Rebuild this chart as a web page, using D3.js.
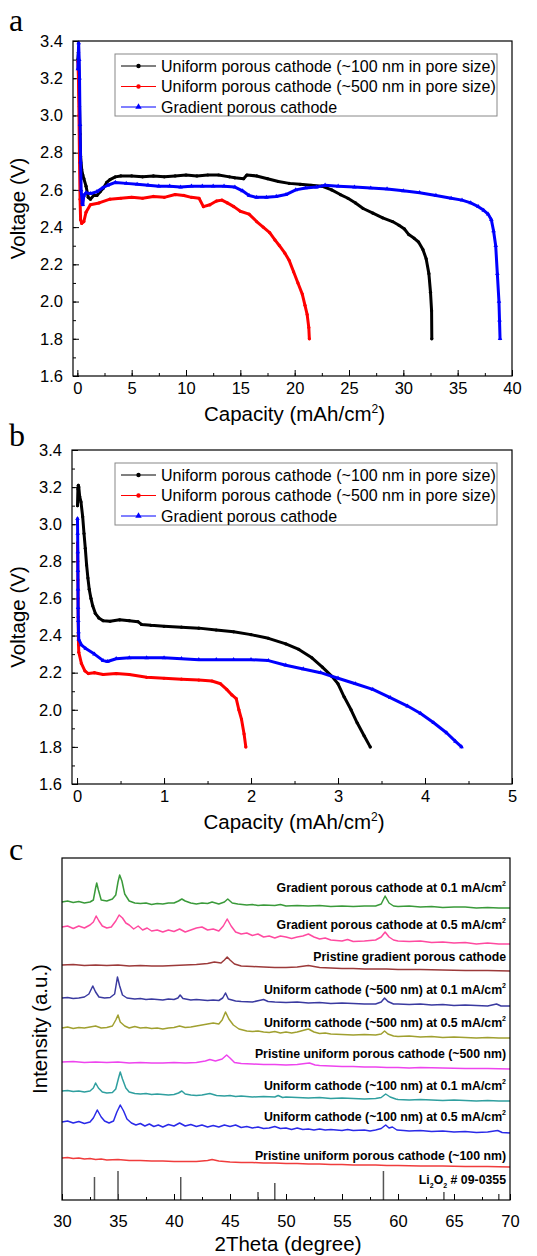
<!DOCTYPE html>
<html>
<head>
<meta charset="utf-8">
<script src="https://cdn.jsdelivr.net/npm/d3@7"></script>
<style>
body { margin: 0; background: #fff; }
text { font-family: "Liberation Sans", Arial, sans-serif; fill: #000; }
.letter { font-family: "Liberation Serif", "Times New Roman", serif; }
</style>
</head>
<body>
<div id="chart"></div>
<script>
// ---- data: discharge curves, (capacity mAh/cm2, voltage V) ----
var seriesNames = [
    "Uniform porous cathode (~100 nm in pore size)",
    "Uniform porous cathode (~500 nm in pore size)",
    "Gradient porous cathode"
];

// panel a
var a100 = [[0.05,3.30],[0.1,3.34],[0.15,3.20],[0.2,3.05],[0.25,2.90],[0.3,2.78],[0.4,2.71],[0.5,2.68],[0.6,2.66],[0.8,2.62],[1.0,2.56],[1.2,2.55],[1.5,2.57],[1.8,2.57],[2.1,2.59],[2.4,2.61],[2.7,2.64],[3.0,2.655],[3.5,2.67],[4,2.675],[5,2.675],[6,2.67],[7,2.675],[8,2.67],[9,2.675],[10,2.68],[11,2.675],[12,2.68],[13,2.68],[14,2.67],[14.5,2.665],[15.3,2.66],[15.6,2.68],[16.5,2.675],[17.5,2.66],[18.5,2.645],[19.5,2.635],[20.5,2.63],[21.5,2.625],[22.5,2.62],[23.4,2.60],[24.2,2.575],[24.9,2.555],[25.6,2.53],[26.3,2.50],[27.2,2.475],[28.1,2.45],[29,2.43],[29.6,2.41],[30.1,2.39],[30.5,2.36],[31,2.34],[31.4,2.32],[31.8,2.28],[32.1,2.23],[32.35,2.15],[32.5,2.05],[32.6,1.95],[32.62,1.80]];
var a500 = [[0.05,3.29],[0.1,3.20],[0.15,3.0],[0.2,2.75],[0.25,2.55],[0.3,2.44],[0.4,2.42],[0.6,2.43],[0.8,2.48],[1.2,2.52],[2,2.53],[3,2.55],[4,2.555],[5,2.56],[6,2.555],[7,2.565],[8,2.56],[9,2.575],[9.8,2.57],[10.5,2.56],[11.2,2.555],[11.6,2.51],[12.2,2.52],[12.8,2.54],[13.3,2.545],[13.8,2.53],[14.4,2.51],[15,2.485],[15.8,2.47],[16.5,2.43],[17.1,2.40],[17.7,2.37],[18.2,2.33],[18.6,2.30],[19.1,2.26],[19.5,2.22],[19.9,2.16],[20.3,2.10],[20.7,2.04],[20.95,1.98],[21.15,1.93],[21.3,1.86],[21.35,1.80]];
var aGrad = [[0.05,3.25],[0.12,3.39],[0.17,3.30],[0.2,3.20],[0.25,2.95],[0.3,2.75],[0.35,2.60],[0.45,2.53],[0.5,2.52],[0.6,2.57],[0.8,2.585],[1.2,2.58],[1.8,2.59],[2.3,2.61],[2.8,2.625],[3.5,2.64],[4.5,2.635],[5.5,2.63],[6.5,2.625],[7.5,2.62],[8.5,2.62],[9.5,2.615],[10.5,2.62],[11.5,2.62],[12.5,2.62],[13.5,2.62],[14.5,2.615],[15.2,2.595],[15.8,2.57],[16.5,2.56],[17.4,2.56],[18.3,2.565],[19.2,2.575],[20.1,2.60],[21,2.61],[22,2.615],[22.8,2.625],[24,2.62],[25.5,2.615],[27,2.61],[28.5,2.605],[30,2.595],[31.5,2.585],[33,2.57],[34.4,2.555],[35.4,2.545],[36.2,2.53],[36.9,2.51],[37.4,2.49],[37.8,2.47],[38.1,2.44],[38.3,2.38],[38.5,2.30],[38.65,2.15],[38.8,2.0],[38.85,1.90],[38.9,1.80]];

// panel b
var b100 = [[0.005,3.10],[0.01,3.19],[0.015,3.21],[0.02,3.20],[0.03,3.15],[0.045,3.12],[0.065,3.04],[0.08,2.95],[0.095,2.87],[0.11,2.78],[0.125,2.71],[0.14,2.65],[0.16,2.60],[0.18,2.56],[0.21,2.52],[0.25,2.495],[0.3,2.48],[0.38,2.477],[0.49,2.485],[0.6,2.48],[0.7,2.475],[0.74,2.46],[0.85,2.455],[1.0,2.45],[1.2,2.445],[1.4,2.44],[1.6,2.43],[1.8,2.42],[2.0,2.405],[2.2,2.385],[2.4,2.355],[2.55,2.325],[2.7,2.28],[2.82,2.23],[2.93,2.18],[3.0,2.14],[3.07,2.07],[3.15,2.0],[3.22,1.93],[3.3,1.86],[3.37,1.80]];
var b500 = [[0.005,2.90],[0.008,2.80],[0.01,2.70],[0.012,2.60],[0.013,2.50],[0.015,2.40],[0.017,2.35],[0.02,2.31],[0.05,2.25],[0.09,2.21],[0.13,2.195],[0.2,2.20],[0.3,2.19],[0.45,2.195],[0.6,2.19],[0.8,2.175],[1.0,2.17],[1.2,2.165],[1.4,2.16],[1.55,2.155],[1.65,2.14],[1.72,2.11],[1.78,2.08],[1.83,2.06],[1.86,2.0],[1.89,1.95],[1.92,1.87],[1.94,1.80]];
var bGrad = [[0.005,3.03],[0.007,2.95],[0.009,2.85],[0.01,2.75],[0.011,2.65],[0.012,2.55],[0.014,2.48],[0.017,2.42],[0.02,2.38],[0.05,2.35],[0.1,2.33],[0.2,2.30],[0.3,2.265],[0.35,2.26],[0.45,2.275],[0.6,2.28],[0.8,2.28],[1.0,2.28],[1.2,2.275],[1.4,2.27],[1.6,2.27],[1.8,2.27],[2.0,2.27],[2.2,2.265],[2.4,2.24],[2.6,2.22],[2.8,2.20],[3.0,2.17],[3.2,2.14],[3.4,2.11],[3.6,2.065],[3.8,2.02],[3.95,1.98],[4.1,1.93],[4.25,1.875],[4.35,1.83],[4.42,1.80]];

var voltTicks = [1.6, 1.8, 2.0, 2.2, 2.4, 2.6, 2.8, 3.0, 3.2, 3.4];
var capTicksA = [0, 5, 10, 15, 20, 25, 30, 35, 40];
var capTicksB = [0, 1, 2, 3, 4, 5];

// ---- data: XRD patterns, (2theta deg, stacked intensity a.u.) ----
var xrdNames = [
    ["Gradient porous cathode at 0.1 mA/cm", "2"],
    ["Gradient porous cathode at 0.5 mA/cm", "2"],
    ["Pristine gradient porous cathode", ""],
    ["Uniform cathode (~500 nm) at 0.1 mA/cm", "2"],
    ["Uniform cathode (~500 nm) at 0.5 mA/cm", "2"],
    ["Pristine uniform porous cathode (~500 nm)", ""],
    ["Uniform cathode (~100 nm) at 0.1 mA/cm", "2"],
    ["Uniform cathode (~100 nm) at 0.5 mA/cm", "2"],
    ["Pristine uniform porous cathode (~100 nm)", ""]
];
var xrdGrad01 = [[30,298],[30.5,299],[31,297.5],[31.5,298.5],[32,297],[32.5,298],[32.8,300],[33.0,312],[33.1,317],[33.25,310],[33.5,300],[34,299],[34.5,301],[34.8,305],[35.0,318],[35.15,325],[35.35,319],[35.6,306],[36,299],[36.5,297],[37,296.5],[37.5,297],[38,295.5],[38.5,296.5],[39,296],[39.5,297],[40,297],[40.4,299],[40.7,301],[41,299],[41.5,297],[42,296],[42.5,297],[43,296.5],[43.4,298],[44,296],[44.5,298],[44.8,301],[45.2,297],[45.7,296],[46.5,295],[47,295.5],[47.5,294.5],[48,295],[49,294.5],[49.5,295.5],[50,294],[51,294.5],[52,294],[53,294.5],[54,293.5],[55,294],[56,293.5],[57,294],[58,294],[58.5,296],[58.85,304],[59.2,297],[59.6,294],[60,293.5],[61,294],[62,293],[63,293.5],[64,292.5],[65,293],[66,293],[67,292],[68,292.5],[69,292],[70,292]];
var xrdGrad05 = [[30,273],[30.5,274],[31,271.5],[31.5,274],[32,272],[32.5,275],[32.8,278],[33.05,284],[33.3,279],[33.6,274],[34,272],[34.4,273],[34.8,279],[35.1,285],[35.4,282],[35.7,277],[36,275],[36.4,271],[36.8,274],[37.2,270],[37.6,272],[38,269],[38.5,270],[39,268],[39.5,270],[40,268.5],[40.5,271],[41,268],[41.5,270],[42,272],[42.5,273],[43,270],[43.5,271],[44,269],[44.4,274],[44.75,281],[45.1,274],[45.5,268],[46,266],[46.5,267],[47,264.5],[47.5,266],[48,263],[48.5,264],[49,262],[49.5,264],[50,263],[50.5,261.5],[51,263],[51.5,264],[52,266],[52.5,263],[53,261],[53.5,262],[54,260],[55,259],[55.5,260.5],[56,258.5],[57,259],[57.5,259.5],[58,260],[58.5,263],[58.85,268],[59.2,263],[59.6,260],[60,259],[61,258.5],[62,259],[63,257.5],[64,258],[65,257],[66,257.5],[67,256],[68,257],[69,256],[70,256]];
var xrdGradPristine = [[30,235],[31,235.5],[32,234.5],[33,235],[34,234.5],[35,235],[36,234],[37,234.5],[38,234],[39,234],[40,234.5],[41,235],[42,235.5],[43,236.5],[43.6,238],[44.2,237],[44.5,240],[44.75,243],[45.0,240],[45.4,236],[46,234],[47,233.5],[48,233],[49,232.5],[50,232.5],[51,233],[52,234.5],[53,232.5],[54,232],[55,231.5],[56,231.5],[57,231],[58,231],[59,231],[60,230.5],[62,230.5],[64,230],[66,229.5],[68,229.5],[70,229]];
var xrdU500at01 = [[30,202],[30.5,202.5],[31,201.5],[31.5,202],[32,203],[32.4,206],[32.75,214],[33.0,208],[33.3,203],[33.8,202],[34.3,202.5],[34.7,206],[34.95,223],[35.15,214],[35.4,205],[35.8,202],[36.5,201],[37,201.5],[37.5,200.5],[38,201],[39,200],[39.5,201],[40,200.5],[40.35,202],[40.55,205],[40.8,201.5],[41.5,200],[42,200.5],[43,199.5],[43.5,200],[44,199.5],[44.35,202],[44.6,207],[44.85,201],[45.5,199],[46,198.5],[47,198],[47.6,199.5],[48,200.5],[48.4,198.5],[49,198],[50,197.5],[51,198],[52,197],[53,197.5],[54,196.5],[55,197],[56,196.5],[57,196],[58,196],[58.5,198],[58.8,202],[59.1,198.5],[59.6,196],[60,196],[61,195.5],[62,196],[63,195],[64,195.5],[65,194.5],[66,195],[67,194.5],[68,194],[68.8,196],[69.2,194],[70,194]];
var xrdU500at05 = [[30,172],[30.5,173],[31,171.5],[31.5,172.5],[32,172],[32.5,173],[33,174],[33.5,172],[34,172.5],[34.5,174],[34.8,180],[35.0,185],[35.2,178],[35.6,174],[36,172],[36.5,173.5],[37,172],[37.5,172.5],[38,171.5],[38.5,172],[39,171],[39.5,172],[40,172.5],[40.5,174],[41,172.5],[41.5,173],[42,174],[42.5,175],[43,176],[43.5,177],[44,176],[44.3,180],[44.6,188],[44.9,181],[45.3,175],[45.8,171],[46.5,169],[47,168.5],[47.5,169],[48,168],[48.5,167.5],[49,168.5],[49.5,167],[50,168],[50.5,167],[51,168],[51.5,169.5],[52,171],[52.5,168],[53,166.5],[53.5,167],[54,166],[55,165.5],[56,165],[57,165.5],[58,165],[58.5,166],[58.8,169],[59.1,166],[59.6,164],[60,163.5],[61,164],[62,163],[63,163.5],[64,162.5],[65,163],[66,162.5],[67,162],[68,162.5],[69,162],[70,162]];
var xrdU500Pristine = [[30,138],[31,138.5],[32,137.5],[33,138],[34,137.5],[35,138],[36,137],[37,137.5],[38,137],[39,137],[40,137.5],[41,137],[42,137.5],[42.8,139],[43.2,140.5],[43.7,139],[44.3,141],[44.7,145],[45.0,142],[45.4,137.5],[46,136.5],[47,136],[48,135.5],[49,135.5],[50,135],[51,135.5],[51.7,136.5],[52.1,137],[52.6,135],[53,134.5],[54,134],[55,133.5],[56,133.5],[57,133],[58,133],[59,132.5],[60,132.5],[61,132],[62,132.5],[64,132],[66,131.5],[68,131.5],[70,131]];
var xrdU100at01 = [[30,109],[30.5,109.5],[31,108.5],[31.5,109],[32,108],[32.5,109],[32.8,112],[33.0,117],[33.25,112],[33.6,108],[34,107],[34.5,107.5],[34.8,111],[35.05,122],[35.2,128],[35.4,121],[35.7,112],[36,108],[36.5,106.5],[37,106],[37.5,106.5],[38,105.5],[38.5,106],[39,105.5],[39.5,105],[40,105.5],[40.4,107],[40.7,109],[41,106],[41.5,105],[42,104.5],[42.5,105],[43.2,106.5],[43.8,104.5],[44.5,104],[45,104.5],[45.5,103.5],[46,104],[47,103],[48,103.5],[49,103],[49.3,104.5],[49.7,102.5],[50,103],[51,102.5],[52,102],[53,102.5],[54,101.5],[55,102],[56,101.5],[57,101],[58,101.5],[58.5,102.5],[58.9,106],[59.3,103],[59.8,101],[60,100.5],[61,100],[62,100.5],[63,100],[64,99.5],[65,100],[66,99.5],[67,99],[68,99.5],[69,99],[70,99]];
var xrdU100at05 = [[30,78],[30.5,79],[31,77],[31.5,78.5],[32,76.5],[32.5,78],[32.8,82],[33.15,90],[33.5,83],[33.8,79],[34.2,77],[34.6,79],[34.9,88],[35.2,95],[35.5,89],[35.8,81],[36.2,77],[36.6,75],[37,76.5],[37.4,74],[37.8,76],[38.2,73.5],[38.6,75],[39,73],[39.5,75.5],[40,74],[40.5,77],[41,74],[41.5,75.5],[42,73.5],[42.5,75],[43,73],[43.5,74.5],[44,73],[44.5,75],[45,73.5],[45.5,75],[46,72.5],[46.5,73.5],[47,72],[47.5,73],[48,71.5],[48.5,72],[49,73.5],[49.5,71.5],[50,72],[50.5,70.5],[51,72],[51.5,70.5],[52,71],[52.5,70],[53,71],[53.5,70],[54,70.5],[55,69.5],[55.5,70.5],[56,69.5],[57,70],[57.5,69],[58,70],[58.5,71.5],[58.9,75],[59.2,72],[59.5,73],[59.9,70],[60.5,69.5],[61,69],[62,69.5],[63,68.5],[64,69],[65,68],[66,68.5],[67,67.5],[68,68],[68.9,69.5],[69.3,67.5],[70,67]];
var xrdU100Pristine = [[30,42],[30.5,42.5],[31,41.5],[31.5,42],[32,41],[32.5,41.5],[33,40.5],[33.5,41],[34,40],[35,40.5],[36,39.5],[37,39.5],[38,39],[39,39],[40,38.5],[41,38.5],[42,38.5],[43,39.5],[43.4,40.5],[44,39],[45,38],[46,37.5],[47,37.5],[48,37],[49,37],[50,36.5],[51,36.5],[52,36],[53,36],[54,35.5],[55,35.5],[56,35],[57,35],[58,35],[59,34.5],[60,34.5],[62,34],[64,34],[66,33.5],[68,33.5],[70,33]];

// Li2O2 reference card 09-0355
var refTheta = [32.9, 35.0, 40.6, 47.5, 49.0, 58.7, 64.1, 69.0];
var refInt = [23, 29, 23, 8, 17, 29, 8, 6];

var thetaTicks = [30, 35, 40, 45, 50, 55, 60, 65, 70];

// ---- styles / layout ----
var curveColors = ["#000000", "#ff0000", "#0000ff"];
var xrdColors = ["#3a9a3a", "#ff4aa0", "#9c3a3a", "#3a3aa0", "#a0a030", "#ee44ee", "#2f9f9f", "#2a2ae8", "#f03c3c"];
var xrdLabelLevel = [308, 271, 239, 206, 173, 142, 110, 79, 40];

var svg = d3.select("#chart").append("svg")
    .attr("width", 537)
    .attr("height", 1256);

function styleAxis(sel, fs) {
    sel.select(".domain").remove();
    sel.selectAll("line").attr("stroke", "#000").attr("stroke-width", 1);
    sel.selectAll("text").style("font-size", fs + "px").attr("fill", "#000");
}

function marker(g, kind, color, cx, cy, big) {
    if (kind === "tri") {
        g.append("path")
            .attr("d", d3.symbol().type(d3.symbolTriangle).size(big ? 18 : 9)())
            .attr("transform", "translate(" + cx + "," + cy + ")")
            .attr("fill", color);
    } else {
        g.append("circle").attr("cx", cx).attr("cy", cy).attr("r", big ? 2.2 : 1.6).attr("fill", color);
    }
}

function voltagePanel(p) {
    var x = d3.scaleLinear().domain(p.xDomain).range([p.left, p.right]),
        y = d3.scaleLinear().domain([1.6, 3.4]).range([p.bottom, p.top]);
    var g = svg.append("g");

    var xMinor = d3.range(p.xTicks[0], p.xTicks[p.xTicks.length - 1] + 1e-9, p.xStep / 2);
    var yMinor = d3.range(1.6, 3.4001, 0.1);

    g.append("g").attr("transform", "translate(0," + p.bottom + ")")
        .call(d3.axisBottom(x).tickValues(xMinor).tickSizeInner(-3).tickSizeOuter(0).tickFormat(""))
        .call(styleAxis, 16);
    g.append("g").attr("transform", "translate(0," + p.bottom + ")")
        .call(d3.axisBottom(x).tickValues(p.xTicks).tickSizeInner(-6).tickSizeOuter(0).tickPadding(6).tickFormat(d3.format("d")))
        .call(styleAxis, 16.5);
    g.append("g").attr("transform", "translate(" + p.left + ",0)")
        .call(d3.axisLeft(y).tickValues(yMinor).tickSizeInner(-3).tickSizeOuter(0).tickFormat(""))
        .call(styleAxis, 16);
    g.append("g").attr("transform", "translate(" + p.left + ",0)")
        .call(d3.axisLeft(y).tickValues(voltTicks).tickSizeInner(-6).tickSizeOuter(0).tickPadding(10).tickFormat(d3.format(".1f")))
        .call(styleAxis, 16.5);

    var line = d3.line()
        .x(function(d) { return x(d[0]); })
        .y(function(d) { return y(d[1]); });

    p.series.forEach(function(s, i) {
        g.append("path")
            .datum(s)
            .attr("fill", "none")
            .attr("stroke", curveColors[i])
            .attr("stroke-width", 3)
            .attr("stroke-linejoin", "round")
            .attr("stroke-linecap", "round")
            .attr("d", line);
        var mg = g.append("g");
        s.forEach(function(d) {
            marker(mg, i === 2 ? "tri" : "dot", curveColors[i], x(d[0]), y(d[1]), false);
        });
    });

    g.append("rect")
        .attr("x", p.left).attr("y", p.top)
        .attr("width", p.right - p.left).attr("height", p.bottom - p.top)
        .attr("fill", "none").attr("stroke", "#000").attr("stroke-width", 1.2);

    // legend
    var lg = g.append("g");
    lg.append("rect")
        .attr("x", 115).attr("y", p.legendTop)
        .attr("width", 382).attr("height", 62)
        .attr("fill", "#fff").attr("stroke", "#888").attr("stroke-width", 1);
    seriesNames.forEach(function(n, i) {
        var cy = p.legendTop + 12 + i * 20.5;
        lg.append("line").attr("x1", 121).attr("x2", 156).attr("y1", cy).attr("y2", cy)
            .attr("stroke", curveColors[i]).attr("stroke-width", 1);
        marker(lg, i === 2 ? "tri" : "dot", curveColors[i], 138.5, cy, true);
        lg.append("text").attr("x", 161).attr("y", cy + 5.5)
            .style("font-size", "16px").text(n);
    });

    // titles
    var t = g.append("text")
        .attr("x", (p.left + p.right) / 2 + 2).attr("y", p.bottom + 45)
        .attr("text-anchor", "middle").style("font-size", "20.5px");
    t.append("tspan").text("Capacity (mAh/cm");
    t.append("tspan").attr("dy", -8).style("font-size", "12px").text("2");
    t.append("tspan").attr("dy", 8).text(")");

    g.append("text")
        .attr("transform", "translate(25," + (p.top + p.bottom) / 2 + ") rotate(-90)")
        .attr("text-anchor", "middle").style("font-size", "20.5px")
        .text("Voltage (V)");

    g.append("text").attr("class", "letter")
        .attr("x", 9).attr("y", p.letterY)
        .style("font-size", "32px").text(p.letter);
}

voltagePanel({
    letter: "a", letterY: 31,
    left: 73, right: 512, top: 41, bottom: 376,
    xDomain: [-0.4, 40], xTicks: capTicksA, xStep: 5,
    series: [a100, a500, aGrad], legendTop: 54
});
voltagePanel({
    letter: "b", letterY: 446,
    left: 72, right: 512, top: 450, bottom: 784,
    xDomain: [-0.058, 5], xTicks: capTicksB, xStep: 1,
    series: [b100, b500, bGrad], legendTop: 463
});

// ---- panel c: XRD ----
(function() {
    var left = 62, right = 510, top = 858, bottom = 1200;
    var x = d3.scaleLinear().domain([30, 70]).range([left, right]),
        y = d3.scaleLinear().domain([0, 342]).range([bottom, top]);
    var g = svg.append("g");

    g.append("g").attr("transform", "translate(0," + bottom + ")")
        .call(d3.axisBottom(x).tickValues(d3.range(30, 70.01, 2.5)).tickSizeInner(-3).tickSizeOuter(0).tickFormat(""))
        .call(styleAxis, 16);
    g.append("g").attr("transform", "translate(0," + bottom + ")")
        .call(d3.axisBottom(x).tickValues(thetaTicks).tickSizeInner(-6).tickSizeOuter(0).tickPadding(15).tickFormat(d3.format("d")))
        .call(styleAxis, 16.5);

    var traces = [xrdGrad01, xrdGrad05, xrdGradPristine, xrdU500at01, xrdU500at05,
                  xrdU500Pristine, xrdU100at01, xrdU100at05, xrdU100Pristine];
    var line = d3.line()
        .x(function(d) { return x(d[0]); })
        .y(function(d) { return y(d[1]); });

    traces.forEach(function(tr, i) {
        g.append("path").datum(tr)
            .attr("fill", "none").attr("stroke", xrdColors[i])
            .attr("stroke-width", 1.5).attr("stroke-linejoin", "round")
            .attr("d", line);
        var t = g.append("text")
            .attr("x", 506).attr("y", y(xrdLabelLevel[i]))
            .attr("text-anchor", "end")
            .style("font-size", "12.3px").style("font-weight", "bold").attr("fill", "#222");
        t.append("tspan").text(xrdNames[i][0]);
        if (xrdNames[i][1]) {
            t.append("tspan").attr("dy", -6).style("font-size", "7px").text(xrdNames[i][1]);
        }
    });

    g.selectAll(".ref")
        .data(refTheta)
        .enter().append("line")
        .attr("class", "ref")
        .attr("x1", function(d) { return x(d); })
        .attr("x2", function(d) { return x(d); })
        .attr("y1", y(0))
        .attr("y2", function(d, i) { return y(refInt[i]); })
        .attr("stroke", "#555").attr("stroke-width", 1.5);

    var lt = g.append("text").attr("x", 506).attr("y", y(16))
        .attr("text-anchor", "end")
        .style("font-size", "12.3px").style("font-weight", "bold").attr("fill", "#222");
    lt.append("tspan").text("Li");
    lt.append("tspan").attr("dy", 4).style("font-size", "7px").text("2");
    lt.append("tspan").attr("dy", -4).text("O");
    lt.append("tspan").attr("dy", 4).style("font-size", "7px").text("2");
    lt.append("tspan").attr("dy", -4).text(" # 09-0355");

    g.append("rect")
        .attr("x", left).attr("y", top)
        .attr("width", right - left).attr("height", bottom - top)
        .attr("fill", "none").attr("stroke", "#000").attr("stroke-width", 1.2);

    g.append("text")
        .attr("x", (left + right) / 2 + 2).attr("y", bottom + 51)
        .attr("text-anchor", "middle").style("font-size", "20.5px")
        .text("2Theta (degree)");
    g.append("text")
        .attr("transform", "translate(47," + (top + bottom) / 2 + ") rotate(-90)")
        .attr("text-anchor", "middle").style("font-size", "20.5px")
        .text("Intensity (a.u.)");
    g.append("text").attr("class", "letter")
        .attr("x", 9).attr("y", 860)
        .style("font-size", "32px").text("c");
})();
</script>
</body>
</html>
